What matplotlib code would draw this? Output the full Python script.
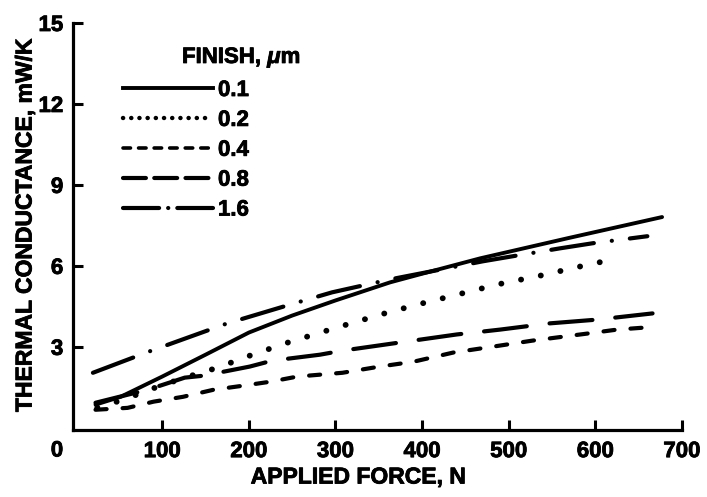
import matplotlib
matplotlib.use("Agg")
import matplotlib.pyplot as plt
import matplotlib.patheffects as pe
from matplotlib.lines import Line2D

plt.rcParams["font.family"] = ["Liberation Sans", "DejaVu Sans"]
plt.rcParams["font.weight"] = "bold"
plt.rcParams["mathtext.fontset"] = "custom"
plt.rcParams["mathtext.it"] = "Liberation Sans:italic:bold"
plt.rcParams["lines.scale_dashes"] = False

# Thermal conductance vs applied force for five surface finishes
finish_labels = ["0.1", "0.2", "0.4", "0.8", "1.6"]

force_01 = [23, 52, 100, 150, 200, 250, 300, 363, 400, 467, 570, 677]
cond_01 = [0.86, 1.15, 1.9, 2.71, 3.53, 4.16, 4.72, 5.39, 5.71, 6.28, 7.04, 7.81]

force_02 = [25, 55, 92, 126, 163, 204, 245, 305, 361, 400, 446, 488, 538, 584, 626]
cond_02 = [0.75, 1.04, 1.49, 1.86, 2.22, 2.71, 3.16, 3.75, 4.28, 4.61, 4.98, 5.32, 5.65, 5.99, 6.28]

force_04 = [23, 60, 90, 124, 159, 193, 225, 256, 308, 351, 390, 436, 482, 527, 590, 625, 659]
cond_04 = [0.67, 0.74, 0.97, 1.15, 1.41, 1.56, 1.71, 1.9, 2.04, 2.27, 2.45, 2.79, 3.01, 3.23, 3.49, 3.64, 3.72]

force_08 = [23, 83, 126, 147, 201, 227, 282, 308, 365, 440, 490, 547, 602, 666]
cond_08 = [0.93, 1.41, 1.86, 1.93, 2.27, 2.49, 2.71, 2.86, 3.12, 3.46, 3.64, 3.87, 4.01, 4.24]

force_16 = [20, 85, 175, 248, 296, 363, 470, 505, 559, 597, 660]
cond_16 = [2.04, 2.83, 3.87, 4.57, 5.02, 5.5, 6.17, 6.36, 6.65, 6.84, 7.1]

x_ticks = [100, 200, 300, 400, 500, 600, 700]
y_ticks = [3, 6, 9, 12, 15]

W, H = 707, 497
FS = 16
heavy = [pe.withStroke(linewidth=0.6, foreground="black")]

fig = plt.figure(figsize=(W / 100, H / 100), dpi=100)
ax = fig.add_axes([73 / W, 1 - 430 / H, (682 - 73) / W, (430 - 23) / H])

lw = 3.0
ax.plot(force_01, cond_01, color="black", lw=2.8, solid_capstyle="round",
        solid_joinstyle="round")
ax.plot(force_02, cond_02, color="black", lw=4.2, linestyle=(0, (0.1, 14.4)),
        dash_capstyle="round")
ax.plot(force_04, cond_04, color="black", lw=lw, linestyle=(0, (8, 11.5)),
        dash_capstyle="round")
ax.plot(force_08, cond_08, color="black", lw=lw, linestyle=(0, (31, 16.5)),
        dash_capstyle="round")
ax.plot(force_16, cond_16, color="black", lw=lw, linestyle=(0, (31, 13, 0.1, 13)),
        dash_capstyle="round")

ax.set_xlim(-3, 700)
ax.set_ylim(-0.08, 15)
ax.set_xticks(x_ticks)
ax.set_yticks(y_ticks)
ax.tick_params(direction="in", length=7, width=2.2, labelsize=FS, pad=8)
ax.tick_params(axis="y", pad=7)
for lab in ax.get_xticklabels() + ax.get_yticklabels():
    lab.set_path_effects(heavy)
for s in ["top", "right"]:
    ax.spines[s].set_visible(False)
for s in ["left", "bottom"]:
    ax.spines[s].set_linewidth(2.3)

fig.text(57 / W, 1 - 451 / H, "0", ha="center", va="center", fontsize=FS,
         fontweight="bold", path_effects=heavy)
fig.text(358 / W, 1 - 477 / H, "APPLIED FORCE, N", ha="center", va="center",
         fontsize=16.5, fontweight="bold", path_effects=heavy)
fig.text(25 / W, 1 - 226 / H, "THERMAL CONDUCTANCE, mW/K", ha="center",
         va="center", rotation=90, fontsize=16.5, fontweight="bold",
         path_effects=heavy)

# Legend handles use a tighter dash rhythm than the plotted curves
handles = [
    Line2D([], [], color="black", lw=2.8),
    Line2D([], [], color="black", lw=3.2, linestyle=(0, (0.1, 5.8)),
           dash_capstyle="round"),
    Line2D([], [], color="black", lw=2.6, linestyle=(0, (5.4, 5.8)),
           dash_capstyle="round"),
    Line2D([], [], color="black", lw=3.0, linestyle=(0, (16.5, 6)),
           dash_capstyle="round"),
    Line2D([], [], color="black", lw=3.0, linestyle=(0, (26, 6.5, 0.1, 6.5)),
           dash_capstyle="round"),
]
fs_px = FS * 100 / 72
leg = ax.legend(handles, finish_labels, loc="upper left",
                bbox_to_anchor=(123 / W, 1 - 80 / H), bbox_transform=fig.transFigure,
                frameon=False, fontsize=FS, handlelength=90 / fs_px,
                handletextpad=5 / fs_px, labelspacing=0.4, borderpad=0,
                borderaxespad=0)
for t in leg.get_texts():
    t.set_path_effects(heavy)
fig.text(182 / W, 1 - 58 / H, r"FINISH, $\mathit{\mu}$m", ha="left", va="center",
         fontsize=FS, fontweight="bold", path_effects=heavy)

fig.savefig("out.png", dpi=100)
